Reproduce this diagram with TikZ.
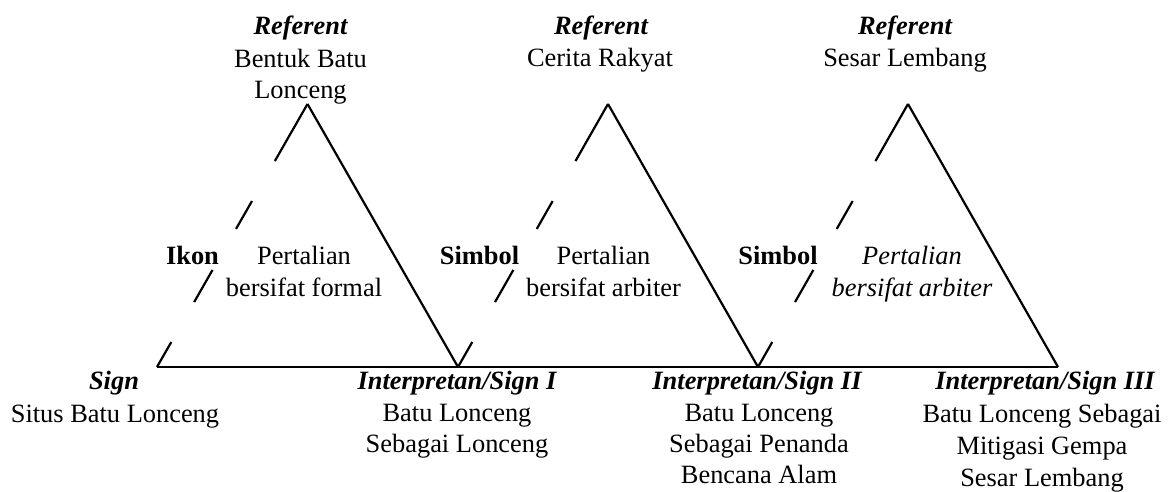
\documentclass[tikz,border=0pt]{standalone}
\usepackage{fontspec}
\setmainfont{Liberation Serif}
\usetikzlibrary{calc}
\newcommand{\lblsize}{\fontsize{13.2}{15.3}\selectfont}

\begin{document}
\begin{tikzpicture}[x=0.5pt,y=-0.5pt,
    side/.style={line width=1.1pt},
    txt/.style={font=\lblsize,align=center,inner sep=0pt,anchor=base},
    ttl/.style={txt,font=\lblsize\bfseries\itshape},
    bld/.style={txt,font=\lblsize\bfseries},
    rel/.style={txt,font=\fontsize{13.2}{16}\selectfont}]
  \useasboundingbox (0,0) rectangle (1172,492);

  % corners of the three triangles
  \coordinate (s) at (157,367);
  \coordinate (i1) at (458,367);
  \coordinate (i2) at (758,367);
  \coordinate (i3) at (1058,367);
  \coordinate (r1) at (307.5,104);
  \coordinate (r2) at (608,104);
  \coordinate (r3) at (908,104);

  \draw[side] (s) -- (i3);
  \draw[side] (r1) -- (i1);
  \draw[side] (r2) -- (i2);
  \draw[side] (r3) -- (i3);
  % broken left sides
  \foreach \ap/\ft in {r1/s,r2/i1,r3/i2}
    \foreach \a/\b in {0/0.217,0.369/0.475,0.631/0.753,0.905/1}
      \draw[side] ($(\ap)!\a!(\ft)$) -- ($(\ap)!\b!(\ft)$);

  % labels (multi-line nodes sit on their last line)
  \node[ttl] (ref1) at (300.5,35) {Referent};
  \node[txt] (refbody1) at (300.5,98) {Bentuk Batu\\Lonceng};
  \node[ttl] (ref2) at (601,35) {Referent};
  \node[txt] (refbody2) at (600,67) {Cerita Rakyat};
  \node[ttl] (ref3) at (905,35) {Referent};
  \node[txt] (refbody3) at (905,67) {Sesar Lembang};

  \node[bld] (ikon) at (192.5,264) {Ikon};
  \node[rel] (rel1) at (304,296) {Pertalian\\bersifat formal};
  \node[bld] (sim1) at (479.5,264) {Simbol};
  \node[rel] (rel2) at (603.5,296) {Pertalian\\bersifat arbiter};
  \node[bld] (sim2) at (778,264) {Simbol};
  \node[rel,font=\fontsize{13.2}{16}\selectfont\itshape] (rel3) at (912,296) {Pertalian\\bersifat arbiter};

  \node[ttl] (sign) at (114,389) {Sign};
  \node[txt] (signbody) at (115,422) {Situs Batu Lonceng};
  \node[ttl] (int1) at (457,389) {Interpretan/Sign I};
  \node[txt] (intbody1) at (457,452.5) {Batu Lonceng\\Sebagai Lonceng};
  \node[ttl] (int2) at (757,389) {Interpretan/Sign II};
  \node[txt] (intbody2) at (759,483) {Batu Lonceng\\Sebagai Penanda\\Bencana Alam};
  \node[ttl] (int3) at (1045,389) {Interpretan/Sign III};
  \node[txt,font=\fontsize{13.2}{15.8}\selectfont] (intbody3) at (1042,486) {Batu Lonceng Sebagai\\Mitigasi Gempa\\Sesar Lembang};
\end{tikzpicture}
\end{document}
